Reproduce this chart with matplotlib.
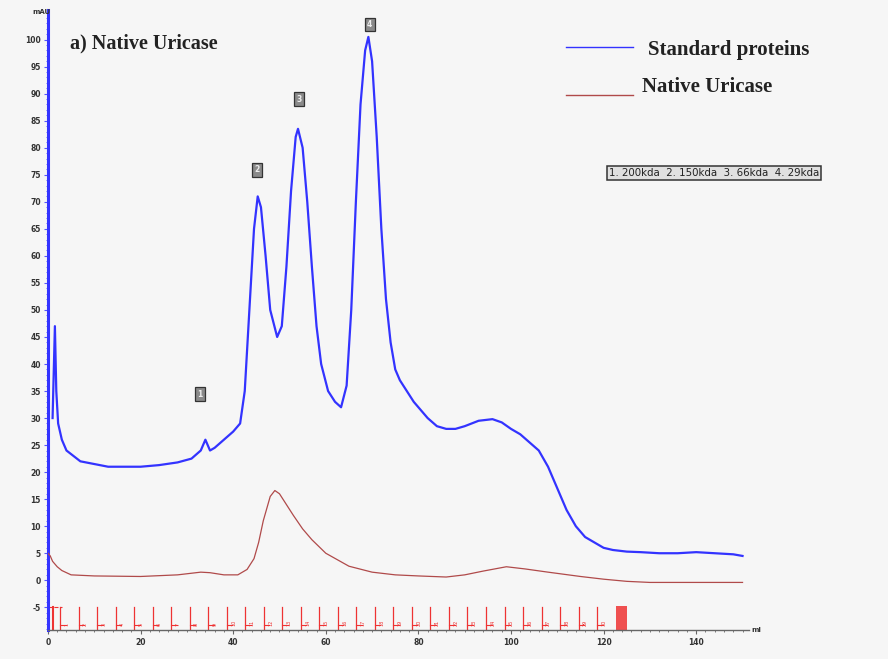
import matplotlib
matplotlib.use("Agg")
import matplotlib.pyplot as plt
from matplotlib.ticker import MultipleLocator

# Standard protein mixture trace (UV absorbance, mAU) vs elution volume (ml)
std_ml = [1.0, 1.5, 1.8, 2.2, 3, 4, 5.5, 7, 10, 13, 16, 20, 24, 28, 31, 33, 34, 35,
          36, 38, 40, 41.5, 42.5, 43.5, 44.5, 45.3, 46, 47, 48, 49.5, 50.5, 51.5,
          52.5, 53.5, 54, 55, 56, 57, 58, 59, 60.5, 62, 63.3, 64.5, 65.5, 66.5,
          67.5, 68.5, 69.2, 70, 71, 72, 73, 74, 75, 76, 77.5, 79, 80.5, 82, 84,
          86, 88, 90, 93, 96, 98, 100, 102, 104, 106, 108, 110, 112, 114, 116,
          118, 120, 122, 125, 128, 132, 136, 140, 144, 148, 150]
std_mau = [30, 47, 35, 29, 26, 24, 23, 22, 21.5, 21, 21, 21, 21.3, 21.8, 22.5, 24,
           26, 24, 24.5, 26, 27.5, 29, 35, 50, 65, 71, 69, 60, 50, 45, 47, 58,
           72, 82, 83.5, 80, 70, 58, 47, 40, 35, 33, 32, 36, 50, 70,
           88, 98, 100.5, 96, 82, 65, 52, 44, 39, 37, 35, 33, 31.5, 30, 28.5,
           28, 28, 28.5, 29.5, 29.8, 29.2, 28, 27, 25.5, 24, 21, 17, 13, 10, 8,
           7, 6, 5.6, 5.3, 5.2, 5, 5, 5.2, 5, 4.8, 4.5]

# Native uricase trace
uri_ml = [0, 0.5, 1, 2, 3, 5, 10, 20, 28, 33, 35, 38, 41, 43, 44.5, 45.5, 46.5,
          48, 49, 50, 51.5, 53, 55, 57, 60, 65, 70, 75, 80, 86, 90, 94, 99, 103,
          108, 115, 120, 125, 130, 140, 150]
uri_mau = [5, 4.5, 3.5, 2.5, 1.8, 1.0, 0.8, 0.7, 1.0, 1.5, 1.4, 1.0, 1.0, 2, 4, 7, 11,
           15.5, 16.6, 16, 14, 12, 9.5, 7.5, 5, 2.6, 1.5, 1.0, 0.8, 0.6, 1.0, 1.7,
           2.5, 2.1, 1.5, 0.7, 0.2, -0.2, -0.4, -0.4, -0.4]

# Peak annotations of the standards
peak_ids = ["1", "2", "3", "4"]
peak_ml = [32.8, 45.1, 54.2, 69.5]
peak_label_mau = [34.4, 75.9, 89.0, 102.8]

# Collected fractions (start volumes, ml)
fraction_ml = [2.6, 6.6, 10.6, 14.6, 18.6, 22.6, 26.6, 30.6, 34.6, 38.6, 42.6,
               46.6, 50.6, 54.6, 58.6, 62.6, 66.6, 70.6, 74.6, 78.6, 82.6, 86.6,
               90.6, 94.6, 98.6, 102.6, 106.6, 110.6, 114.6, 118.6]
fraction_end_block = [122.6, 125.0]

bg = "#f6f6f6"
blue = "#3333ff"
red = "#b04a4a"
frac_red = "#ee3333"

fig = plt.figure(figsize=(8.88, 6.59), dpi=100, facecolor=bg)
ax = fig.add_axes([0.054, 0.044, 0.79, 0.941], facecolor=bg)
ax.set_xlim(0, 151.5)
ax.set_ylim(-9.2, 105.5)

ax.plot(std_ml, std_mau, color=blue, lw=1.6, solid_joinstyle="round", zorder=3)
ax.plot(uri_ml, uri_mau, color=red, lw=0.9, zorder=3)

for pid, px, py in zip(peak_ids, peak_ml, peak_label_mau):
    ax.text(px, py, pid, fontsize=5.5, ha="center", va="center", color="#eeeeee",
            fontweight="bold",
            bbox=dict(boxstyle="square,pad=0.3", fc="#8a8a8a", ec="#333", lw=0.9))

# fraction markers along the baseline
for i, f in enumerate(fraction_ml):
    ax.plot([f, f], [-5, -9.2], color=frac_red, lw=0.9, zorder=2)
    ax.plot([f, f + 1.2], [-8.2, -8.2], color=frac_red, lw=0.8, zorder=2)
    ax.text(f + 1.5, -8.4, str(i + 1), fontsize=3.5, color=frac_red,
            ha="center", va="bottom", rotation=90)
ax.axvspan(fraction_end_block[0], fraction_end_block[1], ymin=0, ymax=(4.5) / 114.7,
           color=frac_red, alpha=0.85, lw=0)
ax.plot([0, 3], [-5, -5], color=frac_red, lw=0.8, ls="--")
ax.plot([1, 1], [-5, -9.2], color=frac_red, lw=1.5)

# axes styling
for s in ("top", "right"):
    ax.spines[s].set_visible(False)
ax.spines["left"].set_color(blue)
ax.spines["left"].set_linewidth(2.2)
ax.spines["bottom"].set_color("#666666")
ax.spines["bottom"].set_linewidth(1.0)

ax.yaxis.set_major_locator(MultipleLocator(5))
ax.yaxis.set_minor_locator(MultipleLocator(1))
ax.xaxis.set_major_locator(MultipleLocator(20))
ax.xaxis.set_minor_locator(MultipleLocator(2))
ax.tick_params(axis="y", which="major", length=3, color="#5555ff", labelsize=5.5,
               labelcolor="#333", pad=2)
ax.tick_params(axis="y", which="minor", length=1.5, color="#5555ff")
ax.tick_params(axis="x", which="major", length=3, color="#666", labelsize=5.5,
               labelcolor="#333", pad=3)
ax.tick_params(axis="x", which="minor", length=1.5, color="#666")
ax.set_ylim(-9.2, 105.5)
yt = list(range(-5, 101, 5))
ax.set_yticks(yt)
ax.set_yticklabels([str(v) for v in yt], fontweight="bold")
xt = list(range(0, 141, 20))
ax.set_xticks(xt)
ax.set_xticklabels([str(v) for v in xt], fontweight="bold")

ax.text(-1.5, 104.5, "mAU", fontsize=5, fontweight="bold", color="#333",
        ha="center", va="bottom")
ax.text(152.0, -9.2, "ml", fontsize=5, fontweight="bold", color="#333",
        ha="left", va="center")

serif = ["Liberation Serif", "DejaVu Serif"]
ax.text(4.7, 99.3, "a) Native Uricase", fontsize=14.5, fontweight="bold",
        family=serif, color="#222", ha="left", va="center")

# legend drawn in data space
ax.plot([111.8, 126.3], [98.7, 98.7], color=blue, lw=1.0)
ax.text(129.5, 98.0, "Standard proteins", fontsize=15, fontweight="bold",
        family=serif, color="#222", ha="left", va="center")
ax.plot([111.8, 126.3], [89.8, 89.8], color=red, lw=1.0)
ax.text(128.3, 91.2, "Native Uricase", fontsize=15, fontweight="bold",
        family=serif, color="#222", ha="left", va="center")

ax.text(143.8, 75.3, "1. 200kda  2. 150kda  3. 66kda  4. 29kda", fontsize=7.4,
        color="#222", ha="center", va="center",
        bbox=dict(boxstyle="square,pad=0.2", fc="#e0e0e0", ec="#333", lw=1.1))

fig.savefig("out.png", dpi=100, facecolor=bg)
